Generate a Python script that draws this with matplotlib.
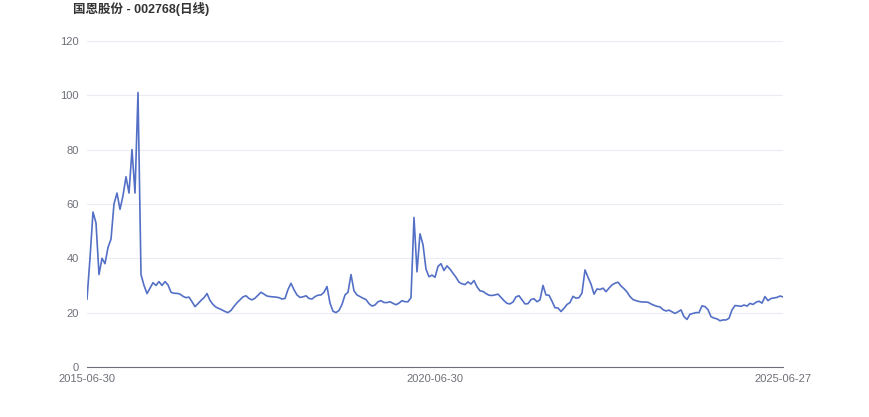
import matplotlib
matplotlib.use('Agg')
import matplotlib.pyplot as plt

plt.rcParams['font.family'] = ['Liberation Sans', 'Noto Sans CJK SC', 'DejaVu Sans']

title = "国恩股份 - 002768(日线)"
tick_labels = ["2015-06-30", "2020-06-30", "2025-06-27"]

# 收盘价（约每 3 px 采样一次，从图上读取）
close = [
    25, 40, 57, 53, 34, 40, 38, 44, 47, 60,
    64, 58, 63, 70, 64, 80, 64, 101, 34, 30,
    27, 29, 31, 30, 31.4, 30, 31.4, 30.2, 27.5, 27.1,
    27.1, 26.8, 26, 25.5, 25.7, 24, 22.2, 23.3, 24.5, 25.5,
    27, 24.5, 23, 22, 21.5, 21, 20.4, 20, 20.8, 22.3,
    23.6, 24.7, 25.8, 26.2, 25.2, 24.7, 25.3, 26.4, 27.5, 26.8,
    26.1, 25.9, 25.8, 25.7, 25.5, 25, 25.2, 28.5, 30.8, 28.4,
    26.5, 25.6, 25.8, 26.2, 25.2, 25, 25.9, 26.4, 26.5, 27.5,
    29.6, 23.5, 20.5, 20, 20.8, 23, 26.5, 27.5, 34, 28,
    26.5, 25.9, 25.3, 24.8, 23.3, 22.4, 22.8, 24, 24.4, 23.7,
    23.7, 24, 23.4, 22.9, 23.5, 24.4, 24, 24, 25.5, 55,
    35, 49, 45, 36, 33.2, 33.8, 33, 37, 38, 35.5,
    37.2, 36, 34.5, 33, 31.2, 30.6, 30.3, 31.3, 30.5, 31.8,
    29.5, 28, 27.8, 27, 26.4, 26.3, 26.5, 26.8, 25.6, 24.4,
    23.4, 23.2, 23.9, 25.8, 26.2, 24.7, 23.2, 23.3, 24.8, 25.1,
    24, 24.7, 30, 26.5, 26.4, 24.2, 21.8, 21.7, 20.4, 21.6,
    23, 23.7, 26, 25.3, 25.5, 27.2, 35.7, 33, 30.5, 26.8,
    28.7, 28.5, 29, 27.7, 29, 30.2, 30.8, 31.2, 29.8, 28.8,
    27.6, 25.9, 24.8, 24.4, 24.1, 23.9, 23.9, 23.8, 23.2, 22.7,
    22.3, 22.1, 21.1, 20.6, 20.9, 20.3, 19.7, 20.3, 21, 18.5,
    17.5, 19.4, 19.7, 20, 20, 22.5, 22.2, 21.1, 18.5, 18,
    17.7, 17, 17.3, 17.3, 17.9, 21, 22.6, 22.5, 22.3, 22.8,
    22.4, 23.4, 23, 23.8, 24.2, 23.5, 25.9, 24.4, 25.2, 25.4,
    25.6, 26.1, 25.8,
]
idx = list(range(len(close)))
tick_pos = [0, (len(close) - 1) // 2, len(close) - 1]

fig = plt.figure(figsize=(8.7, 4.17), dpi=100)
ax = fig.add_axes([0.1, 0.12, 0.8, 0.782])

ax.plot(idx, close, color='#5470c6', lw=1.2)

ax.set_xlim(0, len(close) - 1)
ax.set_ylim(0, 120)
ax.set_yticks([0, 20, 40, 60, 80, 100, 120])
ax.set_xticks(tick_pos)
ax.set_xticklabels(tick_labels)
ax.grid(axis='y', color='#e9ecf3', lw=0.8)
ax.set_axisbelow(True)
for s in ['top', 'right', 'left']:
    ax.spines[s].set_visible(False)
ax.spines['bottom'].set_color('#6e7079')
ax.spines['bottom'].set_linewidth(0.8)
ax.tick_params(axis='both', length=0, labelsize=8, labelcolor='#6e7079')
ax.tick_params(axis='y', pad=6)
ax.tick_params(axis='x', pad=5)

fig.text(0.084, 0.978, title, fontsize=9, fontweight='bold', color='#333333',
         ha='left', va='center')

fig.savefig('out.png', dpi=100)
